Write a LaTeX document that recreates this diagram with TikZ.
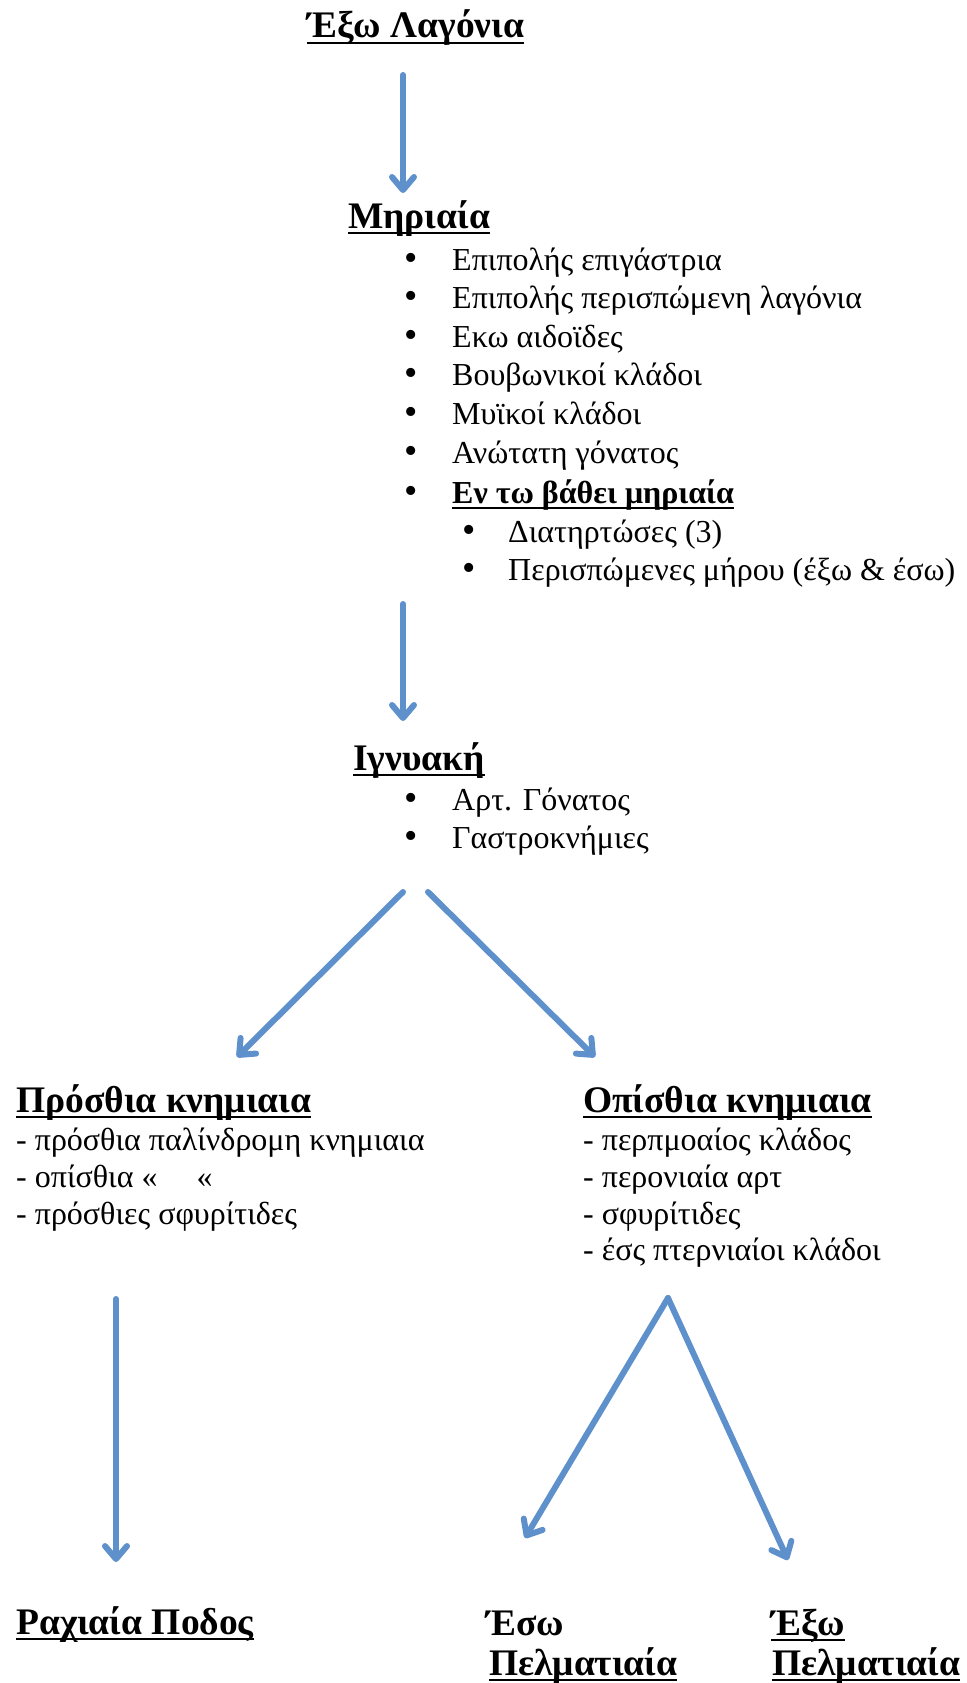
\documentclass[tikz,border=0pt]{standalone}
\usepackage{fontspec}
\setmainfont{Liberation Serif}
\usetikzlibrary{arrows.meta}
\definecolor{arrowblue}{RGB}{94,145,203}
\newcommand\myul[1]{\setbox0\hbox{#1}\rlap{\rule[-6pt]{\wd0}{1.8pt}}\box0}
\begin{document}
\begin{tikzpicture}[x=1pt,y=-1pt,
  head/.style={anchor=base west, inner sep=0pt, font=\fontsize{37.5}{40}\selectfont\bfseries},
  txt/.style={anchor=base west, inner sep=0pt, font=\fontsize{32}{38}\selectfont},
  bul/.style={anchor=base west, inner sep=0pt, font=\fontsize{38}{40}\selectfont},
  conn/.style={draw=arrowblue, line width=6pt, line cap=round, line join=round,
    -{Straight Barb[length=13pt,width=22pt,line cap=round,line join=round]}}]
\useasboundingbox (0,0) rectangle (966,1683);

% headings
\node[head] (lagonia) at (307,38) {\myul{Έξω Λαγόνια}};
\node[head] (miriaia) at (348,228) {\myul{Μηριαία}};
\node[head] (ignyaki) at (353,770) {\myul{Ιγνυακή}};
\node[head] (prosthia) at (16,1112) {\myul{Πρόσθια κνημιαια}};
\node[head] (opisthia) at (583,1112) {\myul{Οπίσθια κνημιαια}};
\node[head] (raxiaia) at (16,1634) {\myul{Ραχιαία Ποδος}};
\node[head] (eso) at (486,1635) {Έσω};
\node[head] (esopel) at (489,1675) {\myul{Πελματιαία}};
\node[head] (exo) at (771,1635) {\myul{Έξω}};
\node[head] (exopel) at (772,1675) {\myul{Πελματιαία}};

% Μηριαία list
\foreach \y/\t [count=\i] in {270/Επιπολής επιγάστρια,
  308/Επιπολής περισπώμενη λαγόνια,
  347/Εκω αιδοϊδες,
  385/Βουβωνικοί κλάδοι,
  424/Μυϊκοί κλάδοι,
  463/Ανώτατη γόνατος}{
  \node[bul] (mb\i) at (404,\y) {•};
  \node[txt] (mt\i) at (452,\y) {\t};
}
\node[bul] (mb7) at (404,503) {•};
\node[txt] (mt7) at (452,503) {\bfseries\myul{Εν τω βάθει μηριαία}};
\node[bul] (sb1) at (462,542) {•};
\node[txt] (st1) at (508,542) {Διατηρτώσες (3)};
\node[bul] (sb2) at (462,580) {•};
\node[txt] (st2) at (508,580) {Περισπώμενες μήρου (έξω \& έσω)};

% Ιγνυακή list
\node[bul] (ib1) at (404,810) {•};
\node[txt] (it1) at (452,810) {Αρτ. Γόνατος};
\node[bul] (ib2) at (404,848) {•};
\node[txt] (it2) at (452,848) {Γαστροκνήμιες};

% Πρόσθια list
\node[txt] (pl1) at (16,1150) {- πρόσθια παλίνδρομη κνημιαια};
\node[txt] (pl2) at (16,1187) {- οπίσθια «\hspace{39pt}«};
\node[txt] (pl3) at (16,1224) {- πρόσθιες σφυρίτιδες};

% Οπίσθια list
\node[txt] (ol1) at (583,1150) {- περπμοαίος κλάδος};
\node[txt] (ol2) at (583,1187) {- περονιαία αρτ};
\node[txt] (ol3) at (583,1224) {- σφυρίτιδες};
\node[txt] (ol4) at (583,1260) {- έσς πτερνιαίοι κλάδοι};

% connector end points
\coordinate (a1s) at (403,75);   \coordinate (a1e) at (403,193);
\coordinate (a2s) at (403,604);  \coordinate (a2e) at (403,721);
\coordinate (a3s) at (403,892);  \coordinate (a3e) at (237,1057);
\coordinate (a4s) at (428,892);  \coordinate (a4e) at (595,1057);
\coordinate (a5s) at (116,1299); \coordinate (a5e) at (116,1562);
\coordinate (a6s) at (668,1298); \coordinate (a6e) at (525,1538);
\coordinate (a7e) at (788,1560);

\draw[conn] (a1s) -- (a1e);
\draw[conn] (a2s) -- (a2e);
\draw[conn] (a3s) -- (a3e);
\draw[conn] (a4s) -- (a4e);
\draw[conn] (a5s) -- (a5e);
\draw[conn] (a6s) -- (a6e);
\draw[conn] (a6s) -- (a7e);
\end{tikzpicture}
\end{document}
